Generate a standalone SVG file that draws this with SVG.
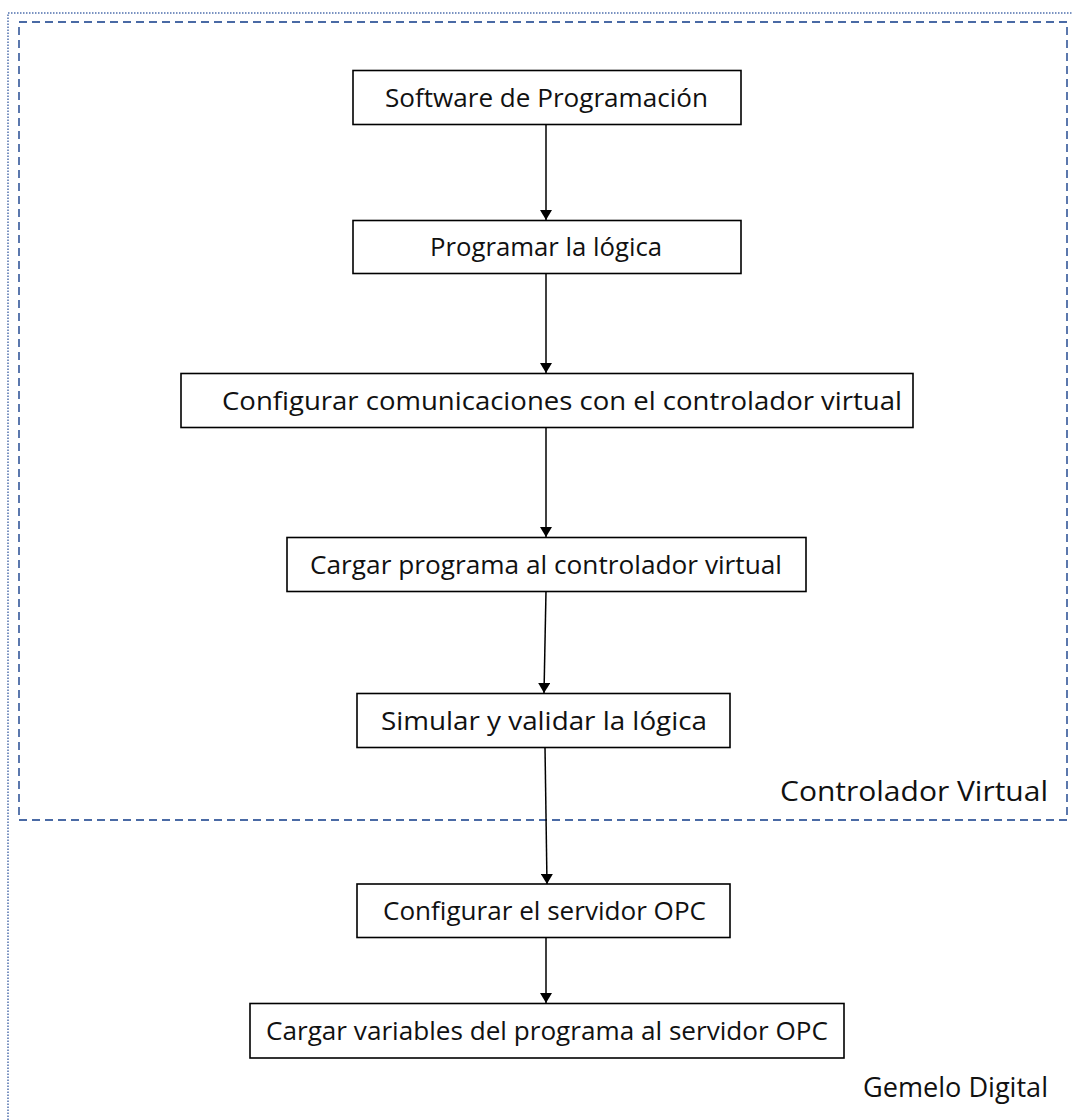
<svg xmlns="http://www.w3.org/2000/svg" width="1073" height="1120" viewBox="0 0 1073 1120">
<defs>
<style>
.box{fill:#fff;stroke:#000;stroke-width:1.6}
.t{font-family:"Open Sans","Noto Sans",sans-serif;font-size:26px;fill:#111;text-anchor:middle}
.lbl{font-family:"Open Sans","Noto Sans",sans-serif;font-size:27px;fill:#111;text-anchor:end}
.conn{stroke:#000;stroke-width:1.5;fill:none;marker-end:url(#ah)}
</style>
<marker id="ah" viewBox="0 0 10 12" refX="10" refY="6" markerWidth="11" markerHeight="12" markerUnits="userSpaceOnUse" orient="auto">
<path d="M0,0 L10,6 L0,12 Z" fill="#000"/>
</marker>
</defs>
<rect width="1073" height="1120" fill="#fff"/>
<g id="gemelo-digital">
<rect x="8" y="13" width="1090" height="1130" fill="none" stroke="#4f6fad" stroke-width="1.5" stroke-dasharray="1.5,1.5"/>
<text class="lbl" x="1048" y="1097" textLength="185" lengthAdjust="spacingAndGlyphs">Gemelo Digital</text>
</g>
<g id="controlador-virtual">
<rect x="19" y="22" width="1048" height="798" fill="none" stroke="#4a6aa5" stroke-width="1.8" stroke-dasharray="8,5"/>
<text class="lbl" x="1048" y="801" textLength="268" lengthAdjust="spacingAndGlyphs">Controlador Virtual</text>
</g>
<g id="connectors">
<line class="conn" x1="546" y1="124" x2="546" y2="220"/>
<line class="conn" x1="546" y1="273" x2="546" y2="373"/>
<line class="conn" x1="546" y1="427" x2="546" y2="537"/>
<line class="conn" x1="546" y1="591" x2="544" y2="693"/>
<line class="conn" x1="545" y1="747" x2="547" y2="884"/>
<line class="conn" x1="546" y1="937" x2="546" y2="1003"/>
</g>
<g id="n1"><rect class="box" x="353" y="70.5" width="388" height="54"/><text class="t" x="546.5" y="107" textLength="323" lengthAdjust="spacingAndGlyphs">Software de Programación</text></g>
<g id="n2"><rect class="box" x="353" y="220.5" width="388" height="53"/><text class="t" x="546" y="256" textLength="232" lengthAdjust="spacingAndGlyphs">Programar la lógica</text></g>
<g id="n3"><rect class="box" x="181" y="373.5" width="732" height="54"/><text class="t" x="562" y="410" textLength="680" lengthAdjust="spacingAndGlyphs">Configurar comunicaciones con el controlador virtual</text></g>
<g id="n4"><rect class="box" x="287" y="537.5" width="519" height="54"/><text class="t" x="546" y="574" textLength="472" lengthAdjust="spacingAndGlyphs">Cargar programa al controlador virtual</text></g>
<g id="n5"><rect class="box" x="357" y="693.5" width="373" height="54"/><text class="t" x="544" y="730" textLength="326" lengthAdjust="spacingAndGlyphs">Simular y validar la lógica</text></g>
<g id="n6"><rect class="box" x="357" y="884" width="373" height="53.5"/><text class="t" x="544.5" y="920" textLength="323" lengthAdjust="spacingAndGlyphs">Configurar el servidor OPC</text></g>
<g id="n7"><rect class="box" x="250" y="1003.5" width="594" height="54.5"/><text class="t" x="547" y="1040" textLength="562" lengthAdjust="spacingAndGlyphs">Cargar variables del programa al servidor OPC</text></g>
</svg>
